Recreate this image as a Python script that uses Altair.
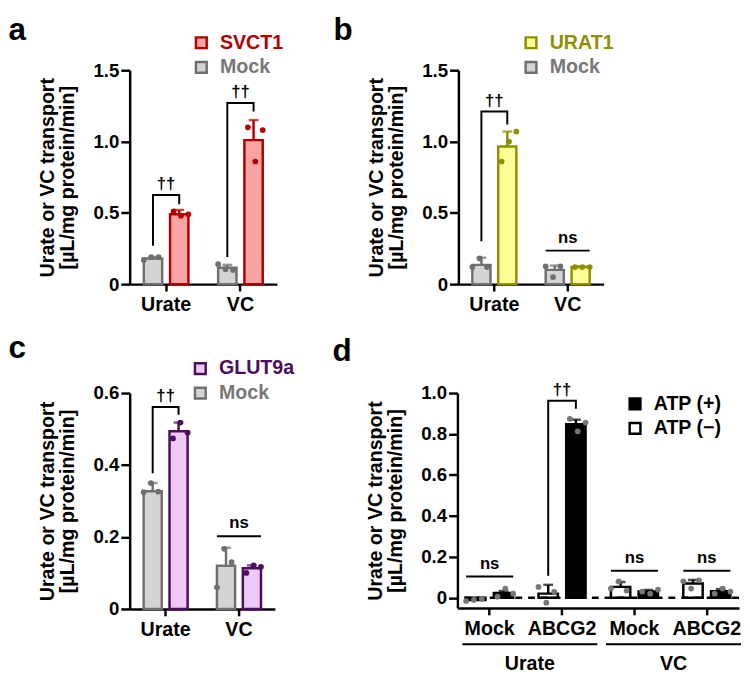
import altair as alt
import pandas as pd

FONT = "Liberation Sans"
YTITLE = ["Urate or VC transport", "[µL/mg protein/min]"]

CATS = ["Urate", "VC"]

# ---------------- panel a ----------------
A_SERIES = ["Mock", "SVCT1"]
A_LEGEND = ["SVCT1", "Mock"]
A_MOCK_MEAN = [0.18, 0.115]
A_MOCK_TOP = [0.19, 0.135]
A_MOCK_PTS = [[0.17, 0.19, 0.19], [0.14, 0.105, 0.10]]
A_GENE_MEAN = [0.49, 1.01]
A_GENE_TOP = [0.52, 1.15]
A_GENE_PTS = [[0.51, 0.48, 0.49], [1.10, 0.86, 1.08]]
A_BR_CAT = ["Urate", "VC"]
A_BR_LEFT = [0.27, 0.19]
A_BR_TOP = [0.625, 1.27]
A_BR_RIGHT = [0.56, 1.21]
A_NS_CAT = []
A_NS_Y = []

# ---------------- panel b ----------------
B_SERIES = ["Mock", "URAT1"]
B_LEGEND = ["URAT1", "Mock"]
B_MOCK_MEAN = [0.135, 0.10]
B_MOCK_TOP = [0.185, 0.13]
B_MOCK_PTS = [[0.12, 0.18, 0.12], [0.125, 0.05, 0.125]]
B_GENE_MEAN = [0.965, 0.12]
B_GENE_TOP = [1.07, 0.125]
B_GENE_PTS = [[0.86, 1.0, 1.07], [0.12, 0.12, 0.12]]
B_BR_CAT = ["Urate"]
B_BR_LEFT = [0.30]
B_BR_TOP = [1.21]
B_BR_RIGHT = [1.12]
B_NS_CAT = ["VC"]
B_NS_Y = [0.235]

# ---------------- panel c ----------------
C_SERIES = ["Mock", "GLUT9a"]
C_LEGEND = ["GLUT9a", "Mock"]
C_MOCK_MEAN = [0.327, 0.12]
C_MOCK_TOP = [0.35, 0.17]
C_MOCK_PTS = [[0.325, 0.35, 0.326], [0.06, 0.167, 0.13]]
C_GENE_MEAN = [0.494, 0.113]
C_GENE_TOP = [0.518, 0.121]
C_GENE_PTS = [[0.474, 0.518, 0.49], [0.10, 0.121, 0.117]]
C_BR_CAT = ["Urate"]
C_BR_LEFT = [0.377]
C_BR_TOP = [0.561]
C_BR_RIGHT = [0.54]
C_NS_CAT = ["VC"]
C_NS_Y = [0.202]

# ---------------- panel d ----------------
D_CATS = ["Urate|Mock", "Urate|ABCG2", "VC|Mock", "VC|ABCG2"]
D_GROUPS = ["Urate", "VC"]
D_SERIES = ["ATP (−)", "ATP (+)"]
D_LEGEND = ["ATP (+)", "ATP (−)"]
D_MINUS_MEAN = [-0.011, 0.02, 0.053, 0.07]
D_MINUS_TOP = [-0.004, 0.063, 0.077, 0.087]
D_MINUS_PTS = [[-0.016, -0.011, -0.006], [0.053, -0.024, 0.029],
               [0.045, 0.08, 0.035], [0.08, 0.045, 0.085]]
D_PLUS_MEAN = [0.023, 0.848, 0.03, 0.032]
D_PLUS_TOP = [0.033, 0.87, 0.038, 0.042]
D_PLUS_PTS = [[0.005, 0.045, 0.02], [0.874, 0.813, 0.856],
              [0.03, 0.02, 0.04], [0.02, 0.045, 0.03]]
D_BR_CAT = ["Urate|ABCG2"]
D_BR_LEFT = [0.108]
D_BR_TOP = [0.962]
D_BR_RIGHT = [0.923]
D_NS_CAT = ["Urate|Mock", "VC|Mock", "VC|ABCG2"]
D_NS_Y = [0.104, 0.132, 0.132]

MOCK_FILL, MOCK_STROKE = "#d4d4d4", "#6f6f6f"


def color_expr(labels, colors):
    expr = f"'{colors[-1]}'"
    for lab, col in zip(labels[:-1][::-1], colors[:-1][::-1]):
        expr = f"datum.label == '{lab}' ? '{col}' : " + expr
    return expr


def build_panel(letter, cats, series, legend_order, fill_rng, stroke_rng, label_rng,
                means, tops, pts, br_cat, br_left, br_top, br_right, ns_cat, ns_y,
                ydomain, yticks, width, height, legend_x, legend_y,
                outer_pi, outer_po, inner_pi, point_color=None, err_color=None,
                xlabel_expr=None, dashed_zero=False, groups=None, groups_range=None,
                title_dx=-30, title_offset=-11):
    bars = pd.DataFrame([
        {"cat": c, "series": s, "val": means[k][i], "top": tops[k][i]}
        for k, s in enumerate(series) for i, c in enumerate(cats)])
    prow = []
    for k, s in enumerate(series):
        for i, c in enumerate(cats):
            for r, v in enumerate(pts[k][i]):
                prow.append({"cat": c, "series": s, "sub": f"{s}|{r}", "val": v})
    points = pd.DataFrame(prow)
    sub_domain = [f"{series[0]}|{r}" for r in range(3)] + ["gap"] + \
                 [f"{series[1]}|{r}" for r in range(3)]
    brow = []
    for j, c in enumerate(br_cat):
        brow += [
            {"id": j, "ord": 0, "cat": c, "series": series[0], "val": br_left[j]},
            {"id": j, "ord": 1, "cat": c, "series": series[0], "val": br_top[j]},
            {"id": j, "ord": 2, "cat": c, "series": series[1], "val": br_top[j]},
            {"id": j, "ord": 3, "cat": c, "series": series[1], "val": br_right[j]},
        ]
    brackets = pd.DataFrame(brow)
    dag = pd.DataFrame({"cat": br_cat, "val": br_top, "txt": ["††"] * len(br_cat)})

    xscale = alt.Scale(domain=cats, paddingInner=outer_pi, paddingOuter=outer_po)
    if xlabel_expr:
        xaxis = alt.Axis(labelExpr=xlabel_expr)
    else:
        xaxis = alt.Axis()
    x_main = alt.X("cat:N", scale=xscale, axis=xaxis, title=None)
    x_plain = alt.X("cat:N", scale=xscale, title=None)
    xo = alt.XOffset("series:N", scale=alt.Scale(domain=series, paddingInner=inner_pi,
                                                  paddingOuter=0))
    yscale = alt.Scale(domain=ydomain, nice=False, zero=False)
    yaxis = alt.Axis(values=yticks, titlePadding=16, titleLineHeight=20,
                     labelExpr="datum.value == 0 ? '0' : format(datum.value, '.1f')")
    y_main = alt.Y("val:Q", scale=yscale, axis=yaxis, title=YTITLE)
    y_plain = alt.Y("val:Q", scale=yscale, title=YTITLE)

    leg = alt.Legend(title=None, orient="none", legendX=legend_x, legendY=legend_y,
                     symbolType="square", symbolSize=120, symbolStrokeWidth=2.5,
                     labelFontSize=20, labelFont=FONT, labelFontWeight="bold",
                     labelColor=alt.ExprRef(color_expr(legend_order, label_rng)),
                     labelOffset=9, rowPadding=3)
    fill = alt.Fill("series:N", scale=alt.Scale(domain=legend_order, range=fill_rng), legend=leg)
    stroke = alt.Stroke("series:N", scale=alt.Scale(domain=legend_order, range=stroke_rng),
                        legend=leg)
    if err_color:
        errc = alt.value(err_color)
    else:
        errc = alt.Color("series:N", scale=alt.Scale(domain=legend_order, range=stroke_rng),
                         legend=None)
    if point_color:
        ptc = alt.value(point_color)
    else:
        ptc = alt.Color("series:N", scale=alt.Scale(domain=legend_order, range=stroke_rng),
                        legend=None)

    layers = []
    bar = alt.Chart(bars).mark_bar(strokeWidth=2.5).encode(
        x=x_main, xOffset=xo, y=y_main, y2=alt.datum(0), fill=fill, stroke=stroke)
    layers.append(bar)
    if dashed_zero:
        layers.append(alt.Chart(pd.DataFrame({"z": [0]})).mark_rule(
            color="black", strokeWidth=2.5, strokeDash=[7, 6]).encode(
            y=alt.Y("z:Q", scale=yscale, title=YTITLE)))
    layers.append(alt.Chart(bars).mark_rule(strokeWidth=2.5).encode(
        x=x_plain, xOffset=xo, y=y_plain, y2="top:Q", color=errc))
    layers.append(alt.Chart(bars).mark_tick(orient="horizontal", size=10, thickness=2.5).encode(
        x=x_plain, xOffset=xo, y=alt.Y("top:Q", scale=yscale, title=YTITLE), color=errc))
    layers.append(alt.Chart(brackets).mark_line(color="black", strokeWidth=2).encode(
        x=x_plain, xOffset=xo, y=y_plain, detail="id:N", order="ord:Q"))
    layers.append(alt.Chart(dag).mark_text(font=FONT, fontSize=17, fontWeight="bold",
                                           baseline="bottom", dy=-2, color="black").encode(
        x=x_plain, y=y_plain, text="txt:N"))
    if ns_cat:
        nsd = pd.DataFrame({"cat": ns_cat, "val": ns_y, "txt": ["ns"] * len(ns_cat)})
        layers.append(alt.Chart(nsd).mark_rule(color="black", strokeWidth=2).encode(
            x=alt.X("cat:N", scale=xscale, bandPosition=0, title=None),
            x2=alt.X2("cat", bandPosition=1), y=y_plain))
        layers.append(alt.Chart(nsd).mark_text(font=FONT, fontSize=17, fontWeight="bold",
                                               baseline="bottom", dy=-4, color="black").encode(
            x=x_plain, y=y_plain, text="txt:N"))
    main = alt.layer(*layers)
    ptl = alt.Chart(points).mark_circle(size=34, opacity=1).encode(
        x=x_plain,
        xOffset=alt.XOffset("sub:N", scale=alt.Scale(domain=sub_domain, paddingInner=0,
                                                      paddingOuter=0)),
        y=y_plain, color=ptc)
    chart = alt.layer(main, ptl).resolve_scale(xOffset="independent")
    if groups:
        gdf = pd.DataFrame({"grp": groups})
        grp = alt.Chart(gdf).mark_rule(color="black", strokeWidth=2).encode(
            x=alt.X("grp:N", bandPosition=0,
                    scale=alt.Scale(domain=groups, range=groups_range, paddingInner=0.06,
                                    paddingOuter=0),
                    axis=alt.Axis(orient="bottom", offset=44, domain=False, ticks=False,
                                  labelPadding=3, labelFontSize=20),
                    title=None),
            x2=alt.X2("grp", bandPosition=1),
            y=alt.value(height + 37))
        chart = alt.layer(chart, grp).resolve_scale(x="independent")
    return chart.properties(
        width=width, height=height,
        title=alt.TitleParams(letter, anchor="start", frame="bounds", fontSize=32,
                              fontWeight="bold", font=FONT, color="black",
                              dx=title_dx, offset=title_offset))


pa = build_panel("a", CATS, A_SERIES, A_LEGEND, ["#f9a3a3", MOCK_FILL], ["#b00000", MOCK_STROKE],
                 ["#b00000", "#777777"],
                 [A_MOCK_MEAN, A_GENE_MEAN], [A_MOCK_TOP, A_GENE_TOP], [A_MOCK_PTS, A_GENE_PTS],
                 A_BR_CAT, A_BR_LEFT, A_BR_TOP, A_BR_RIGHT, A_NS_CAT, A_NS_Y,
                 [0, 1.5], [0, 0.5, 1.0, 1.5], 150, 218, 63, -38, 0.4, 0.19, 0.3,
                 title_dx=-30, title_offset=-14)
pb = build_panel("b", CATS, B_SERIES, B_LEGEND, ["#ffff99", MOCK_FILL], ["#8f8f00", MOCK_STROKE],
                 ["#8f8f00", "#777777"],
                 [B_MOCK_MEAN, B_GENE_MEAN], [B_MOCK_TOP, B_GENE_TOP], [B_MOCK_PTS, B_GENE_PTS],
                 B_BR_CAT, B_BR_LEFT, B_BR_TOP, B_BR_RIGHT, B_NS_CAT, B_NS_Y,
                 [0, 1.5], [0, 0.5, 1.0, 1.5], 148, 218, 64, -38, 0.4, 0.19, 0.3,
                 title_dx=-34, title_offset=-14)
pc = build_panel("c", CATS, C_SERIES, C_LEGEND, ["#eec9f5", MOCK_FILL], ["#4a0e5c", MOCK_STROKE],
                 ["#4a0e5c", "#777777"],
                 [C_MOCK_MEAN, C_GENE_MEAN], [C_MOCK_TOP, C_GENE_TOP], [C_MOCK_PTS, C_GENE_PTS],
                 C_BR_CAT, C_BR_LEFT, C_BR_TOP, C_BR_RIGHT, C_NS_CAT, C_NS_Y,
                 [0, 0.6], [0, 0.2, 0.4, 0.6], 148, 220, 62, -35, 0.4, 0.19, 0.3,
                 title_dx=-30, title_offset=-6)
pd_ = build_panel("d", D_CATS, D_SERIES, D_LEGEND, ["black", "white"], ["black", "black"],
                  ["black", "black"],
                  [D_MINUS_MEAN, D_PLUS_MEAN], [D_MINUS_TOP, D_PLUS_TOP], [D_MINUS_PTS, D_PLUS_PTS],
                  D_BR_CAT, D_BR_LEFT, D_BR_TOP, D_BR_RIGHT, D_NS_CAT, D_NS_Y,
                  [-0.05, 1.0], [0, 0.2, 0.4, 0.6, 0.8, 1.0], 287, 219, 171, 1, 0.35, 0.12, 0.3,
                  point_color="#777777", err_color="black",
                  xlabel_expr="split(datum.label, '|')[1]", dashed_zero=True,
                  groups=D_GROUPS, groups_range=[5, 289], title_dx=-34, title_offset=14)

chart = alt.vconcat(
    alt.hconcat(pa, pb, spacing=50).resolve_scale(fill="independent", stroke="independent",
                                                   color="independent"),
    alt.hconcat(pc, pd_, spacing=38).resolve_scale(fill="independent", stroke="independent",
                                                    color="independent"),
    spacing=18,
).resolve_scale(fill="independent", stroke="independent", color="independent").properties(
    padding={"left": 0, "top": 0, "right": 0, "bottom": 0}
).configure_view(stroke=None).configure_axis(
    domainColor="black", domainWidth=2.5, tickColor="black", tickWidth=2.5, tickSize=9,
    labelFont=FONT, labelFontWeight="bold", labelFontSize=19, labelColor="black",
    titleFont=FONT, titleFontWeight="bold", titleFontSize=20, titleColor="black",
    grid=False, labelPadding=2,
).configure_axisX(labelFontSize=20, labelPadding=4, labelAngle=0, tickSize=7)

chart.save("out.html", embed_options={"renderer": "svg", "actions": False})
